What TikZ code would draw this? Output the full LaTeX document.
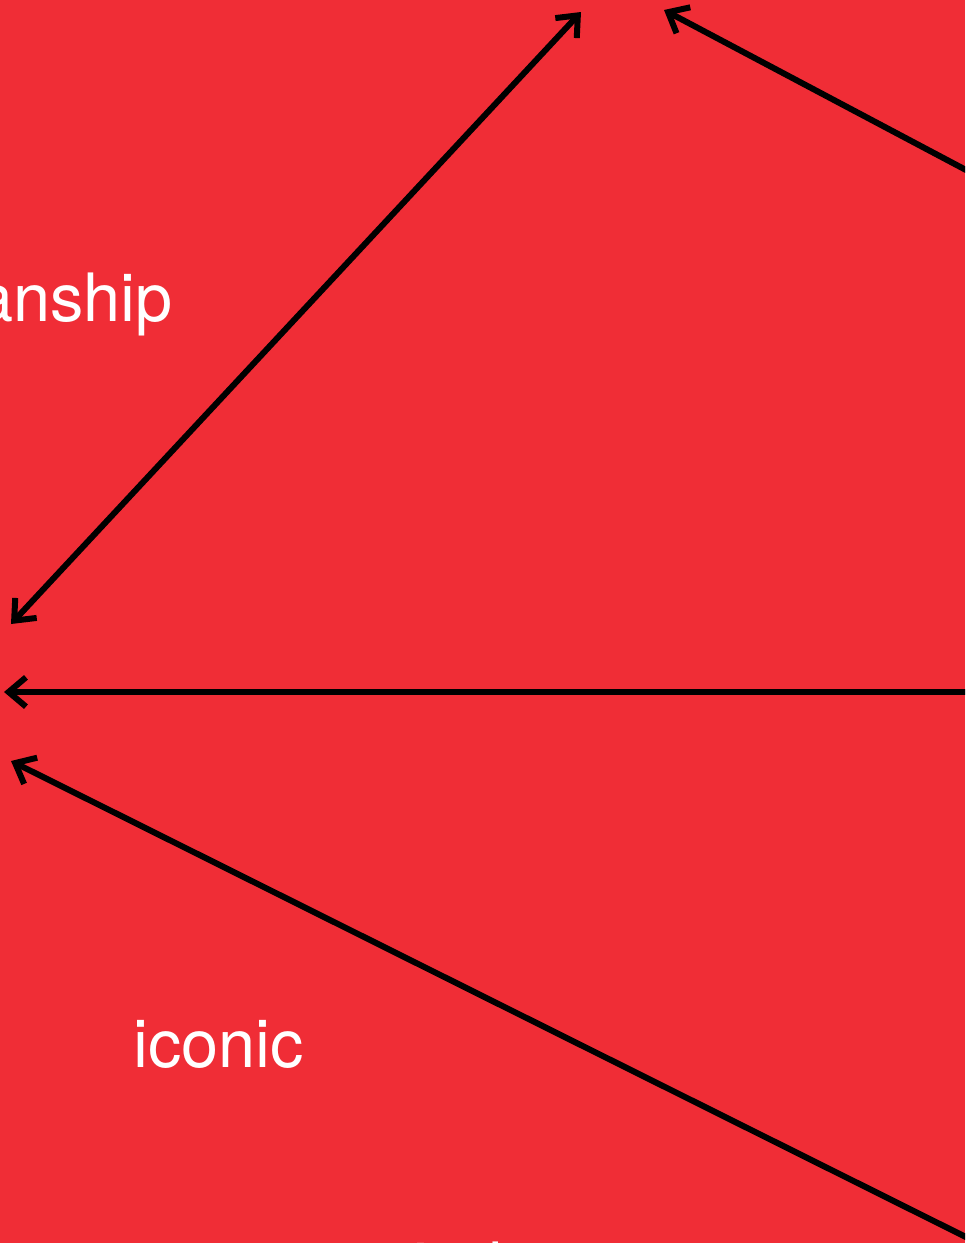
\documentclass[tikz,border=0pt]{standalone}
\usepackage{fontspec}
\setmainfont{TeX Gyre Heros}
\usetikzlibrary{arrows.meta, positioning}
\definecolor{signred}{RGB}{240,45,54}

\begin{document}
\begin{tikzpicture}[
    x=0.75pt, y=-0.75pt,
    term/.style={text=white, font=\fontsize{50}{60}\selectfont, inner sep=0pt},
    arrow/.style={-{Straight Barb[length=13pt, width=22pt]}, line width=4.5pt},
    twoway/.style={{Straight Barb[length=13pt, width=22pt]}-{Straight Barb[length=13pt, width=22pt]}, line width=4.5pt}
]

\useasboundingbox (0,0) rectangle (965,1243);
\clip (0,0) rectangle (965,1243);
\fill[signred] (0,0) rectangle (965,1243);

% terms
\node[term, anchor=base east] (anship) at (173,321) {anship};
\node[term, anchor=base west] (iconic) at (133,1067) {iconic};
\node[term, anchor=base west] (index) at (413,1290) {index};

% arrow ends
\coordinate (top A) at (581,12);
\coordinate (top B) at (664,10);
\coordinate (left A) at (11,624);
\coordinate (left B) at (4,692);
\coordinate (left C) at (11,761);
\coordinate (right B) at (1000,188);
\coordinate (right C) at (1000,692);
\coordinate (right D) at (1000,1254);

\draw[twoway] (left A) -- (top A);
\draw[arrow] (right B) -- (top B);
\draw[arrow] (right C) -- (left B);
\draw[arrow] (right D) -- (left C);

\end{tikzpicture}
\end{document}
